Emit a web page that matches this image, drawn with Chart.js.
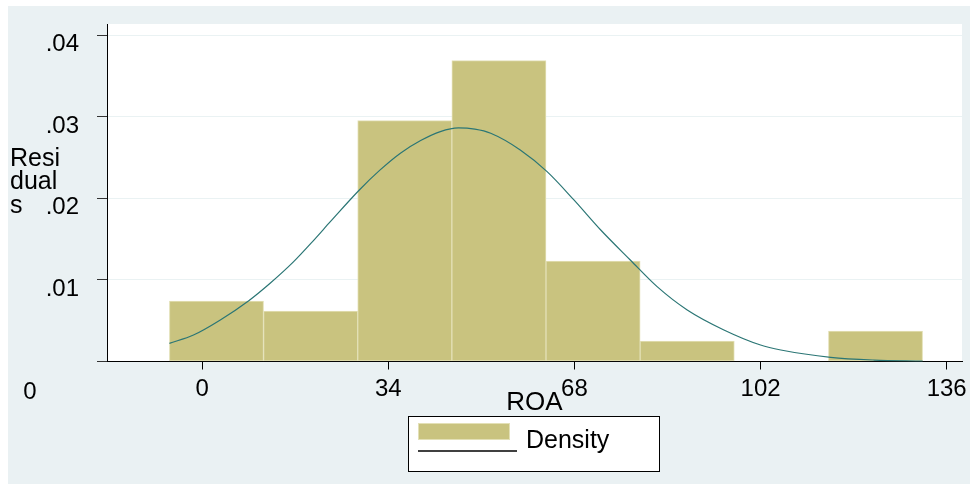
<!DOCTYPE html>
<html>
<head>
<meta charset="utf-8">
<script src="https://cdn.jsdelivr.net/npm/chart.js@4.4.1/dist/chart.umd.min.js"></script>
<style>
  body { margin: 0; background: #ffffff; }
  #wrap { width: 978px; height: 490px; }
</style>
</head>
<body>
<div id="wrap"><canvas id="myHistChart" width="978" height="490"></canvas></div>
<script>
// histogram bins (left edge) and density
var binWidth = 17.2
var binLeft = [-6.0, 11.2, 28.4, 45.6, 62.8, 80.0, 97.2, 114.4]
var density = [0.00742, 0.00619, 0.02955, 0.0369, 0.01233, 0.00252, 0, 0.00374]

// normal density overlay
var curveX = [-6.0, -1.6, 3.3, 8.5, 12.4, 16.7, 20.4, 23.4, 28.7, 32.5, 36.2, 39.9, 43.5, 46.8,
    49.8, 52.7, 58.1, 63.0, 67.9, 72.8, 78.2, 83.1, 88.6, 95.3, 102.0, 105.7, 114.8, 122.7, 131.6]
var curveY = [0.00223, 0.00325, 0.0051, 0.00746, 0.0096, 0.01225, 0.0149, 0.01715, 0.02104, 0.0235,
    0.02555, 0.0271, 0.0282, 0.02865, 0.0285, 0.0280, 0.02595, 0.02329, 0.01982, 0.01613, 0.01245,
    0.00918, 0.00632, 0.00387, 0.00202, 0.00141, 0.00051, 0.00018, 0.00005]

var xTicks = [0, 34, 68, 102, 136]
var yTicks = [0, 0.01, 0.02, 0.03, 0.04]

var FONT = '"Liberation Sans", Arial, sans-serif'
var barColor = '#c9c37f'
var barEdge = '#e3e0b6'
var curveColor = '#2b7675'
var regionColor = '#eaf1f3'

var barData = []
for (var i = 0; i < binLeft.length; i++) {
    if (density[i] > 0) barData.push({ x: binLeft[i] + binWidth / 2, y: density[i] })
}
var lineData = []
for (var i = 0; i < curveX.length; i++) {
    lineData.push({ x: curveX[i], y: curveY[i] })
}

// stata-like graph region, plot region, misplaced "0", y title and key
var stataLook = {
    id: 'stataLook',
    beforeDraw: function (chart) {
        var c = chart.ctx, a = chart.chartArea
        c.save()
        c.fillStyle = regionColor
        c.fillRect(8, 6, 962, 478)
        c.fillStyle = '#ffffff'
        c.fillRect(a.left, a.top, 962 - a.left, a.bottom - a.top)
        c.restore()
    },
    afterDraw: function (chart) {
        var c = chart.ctx
        c.save()
        c.fillStyle = '#000'
        c.font = '24px ' + FONT
        c.textAlign = 'center'
        c.fillText('0', 30, 399)
        c.font = '25px ' + FONT
        c.textAlign = 'left'
        c.fillText('Resi', 10, 166)
        c.fillText('dual', 10, 189)
        c.fillText('s', 10, 213)

        // key
        c.fillStyle = '#ffffff'
        c.fillRect(408, 416, 251, 55)
        c.strokeStyle = '#000'
        c.lineWidth = 1
        c.strokeRect(408.5, 416.5, 251, 55)
        c.fillStyle = barColor
        c.fillRect(418, 423, 92, 17)
        c.strokeStyle = barEdge
        c.strokeRect(418.5, 423.5, 91, 16)
        c.strokeStyle = '#000'
        c.lineWidth = 1.3
        c.beginPath()
        c.moveTo(418, 451)
        c.lineTo(517, 451)
        c.stroke()
        c.fillStyle = '#000'
        c.font = '25px ' + FONT
        c.fillText('Density', 526, 448)
        c.restore()
    }
}

var ctx1 = document.getElementById('myHistChart')
new Chart(ctx1, {
    type: 'bar',
    data: {
        datasets: [
            {
                type: 'line',
                label: '',
                data: lineData,
                borderColor: curveColor,
                borderWidth: 1.2,
                pointRadius: 0,
                cubicInterpolationMode: 'monotone',
                fill: false,
                order: 0
            }, {
                label: 'Density',
                data: barData,
                backgroundColor: barColor,
                borderColor: barEdge,
                borderWidth: 1,
                borderSkipped: false,
                barPercentage: 1,
                categoryPercentage: 1,
                order: 1
            }
        ]
    },
    options: {
        responsive: false,
        animation: false,
        layout: { padding: { top: 24, right: 16, left: 0, bottom: 0 } },
        plugins: {
            legend: { display: false },
            tooltip: { enabled: false }
        },
        scales: {
            x: {
                type: 'linear',
                min: -17.4,
                max: 138.8,
                offset: false,
                afterBuildTicks: function (s) { s.ticks = xTicks.map(function (v) { return { value: v } }) },
                afterFit: function (s) { s.height = 128.5; s.paddingLeft = 0; s.paddingRight = 0 },
                grid: { offset: false, drawOnChartArea: false, tickLength: 8, tickColor: '#000' },
                border: { color: '#000', width: 1 },
                ticks: {
                    padding: 5,
                    color: '#000',
                    font: { family: FONT, size: 24 },
                    maxRotation: 0,
                    callback: function (v) { return String(v) }
                },
                title: {
                    display: true,
                    text: 'ROA',
                    color: '#000',
                    font: { family: FONT, size: 26 },
                    padding: { top: 0, bottom: 72 }
                }
            },
            y: {
                min: 0,
                max: 0.0414,
                afterBuildTicks: function (s) { s.ticks = yTicks.map(function (v) { return { value: v } }) },
                afterFit: function (s) { s.width = 107; s.paddingTop = 0; s.paddingBottom = 0 },
                grid: { color: '#eaf2f3', lineWidth: 1, tickLength: 10, tickColor: '#333' },
                border: { color: '#000', width: 1 },
                ticks: {
                    padding: 18,
                    labelOffset: 9,
                    color: '#000',
                    font: { family: FONT, size: 24 },
                    callback: function (v) { return v === 0 ? '' : String(v).replace(/^0/, '') }
                }
            }
        }
    },
    plugins: [stataLook]
});
</script>
</body>
</html>
